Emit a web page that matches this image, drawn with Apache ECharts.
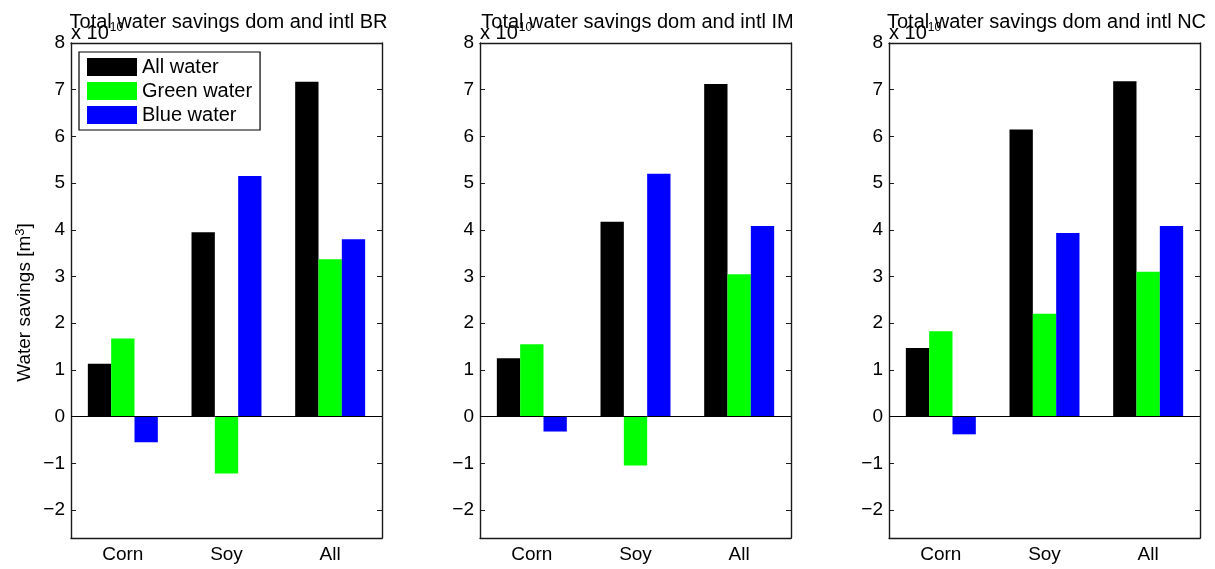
<!DOCTYPE html>
<html>
<head>
<meta charset="utf-8">
<script src="https://cdn.jsdelivr.net/npm/echarts@6/dist/echarts.min.js"></script>
<style>
html, body { margin: 0; padding: 0; background: #fff; }
#source { width: 1215px; height: 569px; }
</style>
</head>
<body>
<div id="source"></div>
<script>
// values in units of 10^10 m3
var categories = ['Corn', 'Soy', 'All'];
var regions = ['BR', 'IM', 'NC'];
var seriesNames = ['All water', 'Green water', 'Blue water'];
var colors = ['#000000', '#00ff00', '#0000ff'];

var allWater = [
  [1.13, 3.95, 7.17],
  [1.25, 4.17, 7.12],
  [1.47, 6.15, 7.18]
];
var greenWater = [
  [1.67, -1.22, 3.37],
  [1.55, -1.05, 3.05],
  [1.83, 2.20, 3.10]
];
var blueWater = [
  [-0.55, 5.15, 3.80],
  [-0.32, 5.20, 4.08],
  [-0.38, 3.93, 4.08]
];
var yTicks = [-2, -1, 0, 1, 2, 3, 4, 5, 6, 7, 8];

var dom = document.getElementById('source');
var myChart = echarts.init(dom, null, { renderer: 'canvas' });

var font = 'Liberation Sans';
var axisColor = '#1a1a1a';
var gridLeft = [71, 480, 889];
var gridW = 311;

var grids = [], xAxes = [], yAxes = [], titles = [], series = [];
var values = [allWater, greenWater, blueWater];

for (var i = 0; i < 3; i++) {
  grids.push({ left: gridLeft[i], top: 43, width: gridW, height: 495 });
}
// bottom x axes
for (var i = 0; i < 3; i++) {
  xAxes.push({
    type: 'category', gridIndex: i, position: 'bottom', data: categories,
    axisLine: { onZero: false, lineStyle: { color: axisColor, width: 1.4 } },
    axisTick: { inside: true, alignWithLabel: true, length: 5, lineStyle: { color: axisColor } },
    axisLabel: { color: '#000', fontSize: 19, fontFamily: font, margin: 7 }
  });
}
// top x axes (box)
for (var i = 0; i < 3; i++) {
  xAxes.push({
    type: 'category', gridIndex: i, position: 'top', data: categories,
    axisLine: { onZero: false, lineStyle: { color: axisColor, width: 1.4 } },
    axisTick: { inside: true, alignWithLabel: true, length: 5, lineStyle: { color: axisColor } },
    axisLabel: { show: false }
  });
}
for (var i = 0; i < 6; i++) {
  var left = i < 3;
  yAxes.push({
    type: 'value', gridIndex: i % 3, position: left ? 'left' : 'right',
    min: -2.6, max: 8,
    splitLine: { show: false },
    axisLine: { show: true, onZero: false, lineStyle: { color: axisColor, width: 1.4 } },
    axisTick: { show: true, inside: true, length: 5, customValues: yTicks, lineStyle: { color: axisColor } },
    axisLabel: {
      show: left, customValues: yTicks, color: '#000', fontSize: 19, fontFamily: font, margin: 6,
      formatter: function (v) { return v < 0 ? '\u2212' + Math.abs(v) : String(v); }
    },
    name: i === 0 ? 'Water savings [m{sup|3}]' : '',
    nameLocation: 'middle', nameGap: 35, nameRotate: 90,
    nameTextStyle: {
      color: '#000', fontSize: 19, fontFamily: font, padding: [0, 24, 0, 0],
      rich: { sup: { fontSize: 13, fontFamily: font, color: '#000', verticalAlign: 'top', padding: [0, 0, 9, 0] } }
    }
  });
}
for (var i = 0; i < 3; i++) {
  var cx = gridLeft[i] + gridW / 2;
  titles.push({
    text: 'Total water savings dom and intl ' + regions[i],
    left: cx - 3, top: 7, textAlign: 'center',
    textStyle: { color: '#000', fontSize: 20, fontWeight: 'normal', fontFamily: font }
  });
  titles.push({
    text: 'x 10{sup|10}',
    left: gridLeft[i] - 5, top: 17,
    textStyle: {
      color: '#000', fontSize: 20, fontWeight: 'normal', fontFamily: font,
      rich: { sup: { fontSize: 12, fontFamily: font, color: '#000', verticalAlign: 'top', padding: [0, 0, 11, 1] } }
    }
  });
  for (var s = 0; s < 3; s++) {
    var ser = {
      name: seriesNames[s], type: 'bar', xAxisIndex: i, yAxisIndex: i,
      data: values[s][i], barWidth: '22.5%', barGap: '0%',
      itemStyle: { color: colors[s] }
    };
    if (s === 0) {
      ser.markLine = {
        silent: true, symbol: 'none', label: { show: false },
        lineStyle: { color: '#000', type: 'solid', width: 1 },
        data: [{ yAxis: 0 }], animation: false
      };
    }
    series.push(ser);
  }
}

var option = {
  animation: false,
  title: titles,
  legend: {
    data: seriesNames, orient: 'vertical', left: 79, top: 52,
    itemWidth: 50, itemHeight: 18, itemGap: 4,
    icon: 'rect',
    borderColor: '#000', borderWidth: 1.2, padding: [5, 8, 5, 8],
    textStyle: { color: '#000', fontSize: 20, fontFamily: font, lineHeight: 18 }
  },
  grid: grids,
  xAxis: xAxes,
  yAxis: yAxes,
  series: series
};

myChart.setOption(option);
window.addEventListener('resize', myChart.resize);
</script>
</body>
</html>
